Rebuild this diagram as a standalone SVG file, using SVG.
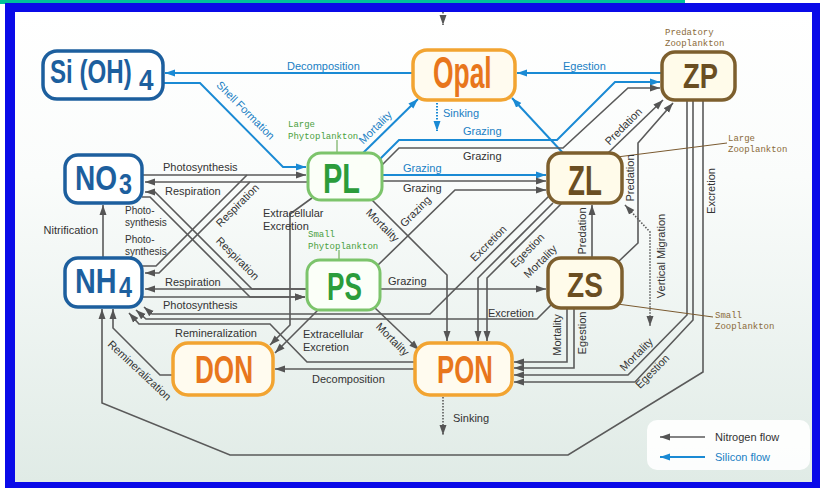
<svg xmlns="http://www.w3.org/2000/svg" width="820" height="488" viewBox="0 0 820 488">
<defs>
<linearGradient id="bg" x1="0" y1="0" x2="0" y2="1">
<stop offset="0" stop-color="#ffffff"/>
<stop offset="0.35" stop-color="#fafcfb"/>
<stop offset="1" stop-color="#e0ebe6"/>
</linearGradient>
<marker id="ag" viewBox="0 0 10 8" refX="10" refY="4" markerWidth="10" markerHeight="8" markerUnits="userSpaceOnUse" orient="auto-start-reverse">
<path d="M0,0.5 L10,4 L0,7.5 z" fill="#555"/>
</marker>
<marker id="ab" viewBox="0 0 10 8" refX="10" refY="4" markerWidth="10" markerHeight="8" markerUnits="userSpaceOnUse" orient="auto-start-reverse">
<path d="M0,0.5 L10,4 L0,7.5 z" fill="#1a8ad4"/>
</marker>
<style>
.c{fill:none;stroke:#5a5a5a;stroke-width:1.6;marker-end:url(#ag)}
.cn{fill:none;stroke:#5a5a5a;stroke-width:1.6}
.b{fill:none;stroke:#1a8ad4;stroke-width:2;marker-end:url(#ab)}
.dot{stroke-dasharray:1.5 1.5}
.ptr{fill:none;stroke:#7a5a30;stroke-width:1}
.l{font-family:"Liberation Sans",Arial,sans-serif;font-size:11px;fill:#333}
.s{font-size:10px}
.lb{font-family:"Liberation Sans",Arial,sans-serif;font-size:11px;fill:#1a7fc4}
.m{font-family:"Liberation Mono","DejaVu Sans Mono",monospace;font-size:9px}
.n{font-family:"Liberation Sans",Arial,sans-serif;font-weight:bold}
.bn rect{fill:#fff;stroke:#1d5f9e;stroke-width:3.5}
.bn text{fill:#1d5f9e}
.on rect{fill:#fffbef;stroke:#f2a431;stroke-width:3.5}
.on text{fill:#e8761c}
.zn rect{fill:#fffbea;stroke:#7d5f2e;stroke-width:3.5}
.zn text{fill:#6a4e22}
.gn rect{fill:#fbfff8;stroke:#7cc46b;stroke-width:3}
.gn text{fill:#2b9c3b}
</style>
</defs>

<!-- frame -->
<rect x="0" y="0" width="820" height="488" fill="#ffffff"/>
<rect x="0" y="0" width="685" height="4" fill="#00c09a"/>
<text class="lb" x="453" y="14" fill="#333">Sinking</text>
<path d="M5,3 H820 V488 H5 Z M15,12 V482 H812 V12 Z" fill="#0a0ae8" fill-rule="evenodd"/>
<rect x="15" y="12" width="797" height="470" fill="url(#bg)"/>

<!-- connectors -->
<g id="connectors">
<!-- silicon -->
<path class="b" d="M413,73 H165"/>
<path class="b" d="M163,83 H200 L283,167 H306"/>
<path class="b" d="M363,153 L418,99"/>
<path class="b dot" d="M437,103 V131"/>
<path class="b" d="M380,159 L399,140 H557 L615,82 H660"/>
<path class="b" d="M382,175 H546"/>
<path class="b" d="M563,153 L512,98"/>
<path class="b" d="M662,73 H517"/>
<!-- top sinking -->
<path class="c dot" d="M443,12 V25"/>
<!-- nitrogen left -->
<path class="c" d="M142,175 H306"/>
<path class="c" d="M308,182 H145"/>
<path class="cn" d="M142,266 H156 L247,175"/>
<path class="c" d="M250,182 L159,273 H145"/>
<path class="c" d="M142,197 H150 L250,297 H305"/>
<path class="c" d="M307,289 H252 L155,192 H145"/>
<path class="c" d="M307,289 H145"/>
<path class="c" d="M142,297 H305"/>
<path class="c" d="M103,258 V205"/>
<!-- PL / PS outputs -->
<path class="c" d="M312,198 L290,214 V325 L270,345"/>
<path class="c" d="M320,308 L275,353"/>
<path class="c" d="M375,308 L419,350"/>
<path class="c" d="M372,200 L447,275 V341"/>
<path class="c" d="M380,289 H546"/>
<path class="c" d="M378,265 L455,190 H546"/>
<path class="c" d="M382,181 H546"/>
<path class="c" d="M382,165 L399,148 H563 L628,88 H660"/>
<!-- zooplankton -->
<path class="c" d="M608,153 L663,100"/>
<path class="c" d="M618,262 L638,243 V143 L673,103"/>
<path class="c" d="M592,258 V205"/>
<path class="c dot" d="M625,205 L650,232 V326" style="marker-start:url(#ag)"/>
<path class="c" d="M553,203 L478,278 V341"/>
<path class="c" d="M562,203 L487,278 V341"/>
<path class="c" d="M549,196 L430,314 H152 L144,307"/>
<path class="c" d="M551,305 L537,319 H146 L136,310"/>
<path class="c" d="M415,362 H307 L270,324 H139 L129,313"/>
<path class="c" d="M173,375 H160 L113,328 V309"/>
<path class="c" d="M703,100 V372 L568,455 H230 L102,403 V309"/>
<path class="c" d="M415,369 H275"/>
<path class="c" d="M567,308 V362 H514"/>
<path class="c" d="M574,308 V368 H514"/>
<path class="c" d="M687,100 V315 L628,375 H514"/>
<path class="c" d="M693,100 V320 L635,382 H514"/>
<path class="c dot" d="M443,397 V435"/>
<!-- pointers -->
<path class="ptr" d="M617,157 L727,143"/>
<path class="ptr" d="M610,303 L713,317"/>
<path class="ptr" d="M337,140 V153" style="stroke:#5aa040"/>
<path class="ptr" d="M339,250 V260" style="stroke:#5aa040"/>
</g>

<!-- edge labels -->
<g id="labels">
<text class="lb" x="287" y="70">Decomposition</text>
<text class="lb" x="563" y="70">Egestion</text>
<text class="lb" text-anchor="middle" dominant-baseline="middle" transform="translate(245,111) rotate(45)">Shell Formation</text>
<text class="lb" text-anchor="middle" dominant-baseline="middle" transform="translate(376,128) rotate(-45)">Mortality</text>
<text class="lb" x="443" y="117">Sinking</text>
<text class="lb" x="463" y="135">Grazing</text>
<text class="lb" x="403" y="172">Grazing</text>

<text class="l" x="163" y="171">Photosynthesis</text>
<text class="l" x="165" y="195">Respiration</text>
<text class="l s" x="125" y="214">Photo-</text>
<text class="l s" x="125" y="226">synthesis</text>
<text class="l s" x="125" y="243">Photo-</text>
<text class="l s" x="125" y="255">synthesis</text>
<text class="l" text-anchor="middle" dominant-baseline="middle" transform="translate(238,206) rotate(-45)">Respiration</text>
<text class="l" text-anchor="middle" dominant-baseline="middle" transform="translate(237,259) rotate(45)">Respiration</text>
<text class="l" x="165" y="286">Respiration</text>
<text class="l" x="163" y="309">Photosynthesis</text>
<text class="l" x="98" y="234" text-anchor="end">Nitrification</text>
<text class="l" x="263" y="217">Extracellular</text>
<text class="l" x="263" y="230">Excretion</text>
<text class="l" text-anchor="middle" dominant-baseline="middle" transform="translate(382,226) rotate(45)">Mortality</text>
<text class="l" text-anchor="middle" dominant-baseline="middle" transform="translate(416,212) rotate(-45)">Grazing</text>
<text class="l" x="388" y="285">Grazing</text>
<text class="l" x="463" y="160">Grazing</text>
<text class="l" x="403" y="192">Grazing</text>
<text class="l" x="303" y="338">Extracellular</text>
<text class="l" x="303" y="351">Excretion</text>
<text class="l" text-anchor="middle" dominant-baseline="middle" transform="translate(392,340) rotate(45)">Mortality</text>
<text class="l" x="175" y="337">Remineralization</text>
<text class="l" text-anchor="middle" dominant-baseline="middle" transform="translate(139,371) rotate(43)">Remineralization</text>
<text class="l" x="312" y="383">Decomposition</text>
<text class="l" text-anchor="middle" dominant-baseline="middle" transform="translate(489,244) rotate(-45)">Excretion</text>
<text class="l" text-anchor="middle" dominant-baseline="middle" transform="translate(528,251) rotate(-45)">Egestion</text>
<text class="l" text-anchor="middle" dominant-baseline="middle" transform="translate(541,262) rotate(-45)">Mortality</text>
<text class="l" x="488" y="317">Excretion</text>
<text class="l" text-anchor="middle" dominant-baseline="middle" transform="translate(558,335) rotate(-90)">Mortality</text>
<text class="l" text-anchor="middle" dominant-baseline="middle" transform="translate(583,333) rotate(-90)">Egestion</text>
<text class="l" text-anchor="middle" dominant-baseline="middle" transform="translate(624,127) rotate(-45)">Predation</text>
<text class="l" text-anchor="middle" dominant-baseline="middle" transform="translate(631,178) rotate(-90)">Predation</text>
<text class="l" text-anchor="middle" dominant-baseline="middle" transform="translate(583,231) rotate(-90)">Predation</text>
<text class="l" text-anchor="middle" dominant-baseline="middle" transform="translate(662,256) rotate(-90)">Vertical Migration</text>
<text class="l" text-anchor="middle" dominant-baseline="middle" transform="translate(712,191) rotate(-90)">Excretion</text>
<text class="l" text-anchor="middle" dominant-baseline="middle" transform="translate(637,355) rotate(-45)">Mortality</text>
<text class="l" text-anchor="middle" dominant-baseline="middle" transform="translate(653,372) rotate(-45)">Egestion</text>
<text class="l" x="453" y="422">Sinking</text>

<text class="m" x="665" y="35" fill="#8a6a3a">Predatory</text>
<text class="m" x="665" y="46" fill="#8a6a3a">Zooplankton</text>
<text class="m" x="728" y="141" fill="#8a6a3a">Large</text>
<text class="m" x="728" y="152" fill="#8a6a3a">Zooplankton</text>
<text class="m" x="715" y="318" fill="#8a6a3a">Small</text>
<text class="m" x="715" y="329" fill="#8a6a3a">Zooplankton</text>
<text class="m" x="288" y="127" fill="#4aa040">Large</text>
<text class="m" x="288" y="139" fill="#4aa040">Phytoplankton</text>
<text class="m" x="308" y="237" fill="#4aa040">Small</text>
<text class="m" x="308" y="249" fill="#4aa040">Phytoplankton</text>
</g>

<!-- nodes -->
<g id="SiOH4" class="bn">
<rect x="43" y="51" width="120" height="48" rx="14"/>
<text class="n" font-size="34" transform="translate(50,83) scale(0.71,1)">Si (OH)</text>
<text class="n" font-size="29" transform="translate(139,90) scale(0.9,1)">4</text>
</g>
<g id="NO3" class="bn">
<rect x="65" y="155" width="77" height="48" rx="13"/>
<text class="n" font-size="36" transform="translate(75,190) scale(0.78,1)">NO</text>
<text class="n" font-size="30" transform="translate(119,194) scale(0.78,1)">3</text>
</g>
<g id="NH4" class="bn">
<rect x="65" y="258" width="77" height="49" rx="13"/>
<text class="n" font-size="36" transform="translate(75,293) scale(0.8,1)">NH</text>
<text class="n" font-size="30" transform="translate(119,297) scale(0.78,1)">4</text>
</g>
<g id="Opal" class="on">
<rect x="413" y="50" width="102" height="50" rx="14"/>
<text class="n" font-size="44" transform="translate(433,88) scale(0.6,1)">Opal</text>
</g>
<g id="DON" class="on">
<rect x="173" y="343" width="100" height="52" rx="15"/>
<text class="n" font-size="39" transform="translate(195,383) scale(0.67,1)">DON</text>
</g>
<g id="PON" class="on">
<rect x="415" y="343" width="97" height="52" rx="15"/>
<text class="n" font-size="39" transform="translate(437,383) scale(0.66,1)">PON</text>
</g>
<g id="ZP" class="zn">
<rect x="662" y="52" width="73" height="48" rx="13"/>
<text class="n" font-size="36" transform="translate(683,88) scale(0.76,1)">ZP</text>
</g>
<g id="ZL" class="zn">
<rect x="548" y="153" width="74" height="50" rx="13"/>
<text class="n" font-size="42" transform="translate(568,195) scale(0.66,1)">ZL</text>
</g>
<g id="ZS" class="zn">
<rect x="548" y="258" width="74" height="50" rx="13"/>
<text class="n" font-size="36" transform="translate(567,297) scale(0.78,1)">ZS</text>
</g>
<g id="PL" class="gn">
<rect x="308" y="153" width="74" height="47" rx="13"/>
<text class="n" font-size="42" transform="translate(323,193) scale(0.69,1)">PL</text>
</g>
<g id="PS" class="gn">
<rect x="307" y="260" width="73" height="50" rx="13"/>
<text class="n" font-size="39" transform="translate(327,300) scale(0.67,1)">PS</text>
</g>

<!-- legend -->
<g id="legend">
<rect x="647" y="420" width="163" height="50" rx="10" fill="#ffffff" fill-opacity="0.9"/>
<path class="c" d="M705,437 H660"/>
<path class="b" d="M705,457 H660"/>
<text class="l" x="715" y="441">Nitrogen flow</text>
<text class="lb" x="715" y="461">Silicon flow</text>
</g>
</svg>
